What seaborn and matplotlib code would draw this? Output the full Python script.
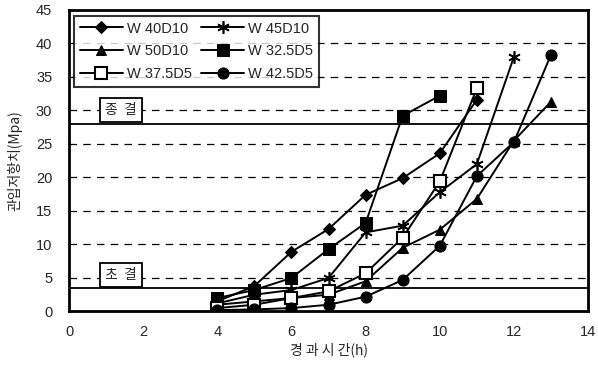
import matplotlib
matplotlib.use("Agg")
import matplotlib.pyplot as plt
import seaborn as sns
import pandas as pd

sns.set_theme(style="white")
plt.rcParams['font.family'] = ['Liberation Sans', 'Noto Sans CJK KR', 'DejaVu Sans']

hours = [4, 5, 6, 7, 8, 9, 10, 11, 12, 13]
w40d10 = [1.5, 3.8, 8.9, 12.3, 17.4, 19.9, 23.6, 31.6]
w45d10 = [1.2, 2.5, 3.2, 5.0, 11.8, 12.8, 17.8, 22.0, 38.0]
w50d10 = [1.0, 1.5, 2.0, 2.5, 4.5, 9.5, 12.2, 16.8, 25.5, 31.3]
w325d5 = [2.0, 3.2, 5.0, 9.3, 13.2, 29.2, 32.2]
w375d5 = [0.5, 1.0, 2.0, 3.0, 5.7, 11.0, 19.4, 33.3]
w425d5 = [0.2, 0.3, 0.5, 1.0, 2.2, 4.7, 9.8, 20.2, 25.3, 38.3]

series = {
    "W 40D10": w40d10,
    "W 45D10": w45d10,
    "W 50D10": w50d10,
    "W 32.5D5": w325d5,
    "W 37.5D5": w375d5,
    "W 42.5D5": w425d5,
}
styles = {
    "W 40D10": dict(marker="D", markersize=6, markerfacecolor="black"),
    "W 45D10": dict(marker=(6, 2, 0), markersize=9, markerfacecolor="black", markeredgewidth=1.2),
    "W 50D10": dict(marker="^", markersize=7, markerfacecolor="black"),
    "W 32.5D5": dict(marker="s", markersize=8, markerfacecolor="black"),
    "W 37.5D5": dict(marker="s", markersize=8, markerfacecolor="white", markeredgewidth=1.5),
    "W 42.5D5": dict(marker="o", markersize=8, markerfacecolor="black"),
}

init_set = 3.5
final_set = 28

fig = plt.figure(figsize=(5.98, 3.69), dpi=100)
ax = fig.add_axes([0.1154, 0.156, 0.868, 0.817])

for y in range(5, 45, 5):
    ax.axhline(y, color="black", lw=0.9, ls=(0, (6, 5)), zorder=0)
ax.axhline(init_set, color="black", lw=1.3, zorder=0)
ax.axhline(final_set, color="black", lw=1.3, zorder=0)

for name, vals in series.items():
    df = pd.DataFrame({"h": hours[:len(vals)], "v": vals})
    sns.lineplot(data=df, x="h", y="v", ax=ax, color="black", lw=1.4,
                 markeredgecolor="black", label=name, **styles[name])

ax.set_xlim(0, 14)
ax.set_ylim(0, 45)
ax.set_xticks(range(0, 15, 2))
ax.set_yticks(range(0, 46, 5))
ax.tick_params(axis="both", labelsize=10.5, length=3, direction="out", color="black")
ax.tick_params(axis="y", pad=9)
ax.tick_params(axis="x", pad=7)
for s in ax.spines.values():
    s.set_color("black")
    s.set_linewidth(2)
ax.set_xlabel("경 과 시 간(h)", fontsize=10, family=['Noto Sans CJK KR'], labelpad=2)
ax.set_ylabel("관입저항치(Mpa)", fontsize=10, family=['Noto Sans CJK KR'], labelpad=10)

bbox = dict(boxstyle="square,pad=0.35", fc="white", ec="black", lw=1.3)
ax.text(1.4, 30.1, "종  결", ha="center", va="center", fontsize=10,
        family=['Noto Sans CJK KR'], bbox=bbox, zorder=3)
ax.text(1.4, 5.4, "초  결", ha="center", va="center", fontsize=10,
        family=['Noto Sans CJK KR'], bbox=bbox, zorder=3)

h, l = ax.get_legend_handles_labels()
order = ["W 40D10", "W 50D10", "W 37.5D5", "W 45D10", "W 32.5D5", "W 42.5D5"]
hd = dict(zip(l, h))
leg = ax.legend([hd[k] for k in order], order, ncol=2, loc="upper left",
                bbox_to_anchor=(-0.005, 1.005), frameon=True, fancybox=False,
                edgecolor="black", fontsize=10.5, handlelength=3.0, columnspacing=0.6,
                handletextpad=0.25, borderpad=0.4, labelspacing=0.6)
leg.get_frame().set_linewidth(1.5)
leg.set_zorder(5)

fig.savefig("out.png", dpi=100)
